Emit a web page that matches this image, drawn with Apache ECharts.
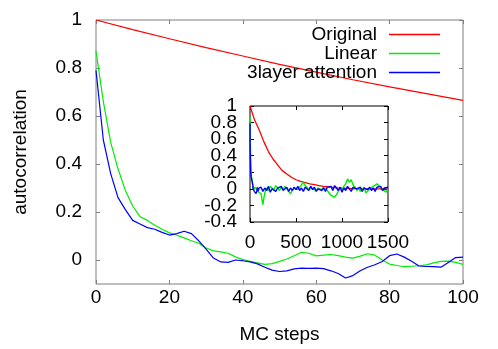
<!DOCTYPE html>
<html lang="en">
<head>
    <meta charset="UTF-8">
    <title>autocorrelation</title>
    <script src="https://cdn.jsdelivr.net/npm/echarts@6/dist/echarts.min.js"></script>
    <style>
        body { margin: 0; background: #fff; }
        #chart { width: 498px; height: 349px; }
    </style>
</head>
<body>
<div id="chart"></div>
<script>
    // main plot, MC steps 0..100
    var steps = [0, 2, 4, 6, 8, 10, 12, 14, 16, 18, 20, 22, 24, 26, 28, 30, 32, 34, 36, 38, 40,
        42, 44, 46, 48, 50, 52, 54, 56, 58, 60, 62, 64, 66, 68, 70, 72, 74, 76, 78, 80,
        82, 84, 86, 88, 90, 92, 94, 96, 98, 100]
    var linear = [0.87, 0.66, 0.49, 0.38, 0.29, 0.225, 0.18, 0.165, 0.145, 0.128, 0.113,
        0.103, 0.092, 0.08, 0.07, 0.05, 0.038, 0.034, 0.028, 0.013, 0.002,
        -0.006, -0.012, -0.018, -0.015, -0.006, 0.004, 0.018, 0.032, 0.028, 0.017,
        0.02, 0.023, 0.018, 0.012, 0.008, 0.016, 0.026, 0.02, 0.0, -0.017,
        -0.023, -0.028, -0.026, -0.024, -0.02, -0.012, -0.006, -0.005, -0.01, -0.018]
    var attention = [0.79, 0.50, 0.36, 0.26, 0.21, 0.165, 0.15, 0.135, 0.128, 0.115, 0.104,
        0.11, 0.12, 0.11, 0.08, 0.045, 0.008, -0.008, -0.01, 0.0, -0.003,
        -0.008, -0.016, -0.03, -0.042, -0.048, -0.045, -0.037, -0.034, -0.035, -0.034,
        -0.036, -0.045, -0.056, -0.075, -0.065, -0.045, -0.03, -0.02, -0.006, 0.018,
        0.025, 0.012, -0.005, -0.025, -0.027, -0.028, -0.03, -0.01, 0.01, 0.012]
    var origSteps = [0, 10, 20, 30, 40, 50, 60, 70, 80, 90, 100]
    var original = [1.0, 0.96, 0.922, 0.885, 0.85, 0.815, 0.783, 0.751, 0.721, 0.693, 0.665]

    // inset, MC steps 0..1500
    var tailSteps = [120, 140, 160, 180, 200, 220, 240, 260, 280, 300, 320, 340, 360, 380, 400,
        420, 440, 460, 480, 500, 520, 540, 560, 580, 600, 620, 640, 660, 680, 700,
        720, 740, 760, 780, 800, 820, 840, 860, 880, 900, 920, 940, 960, 980, 1000,
        1020, 1040, 1060, 1080, 1100, 1120, 1140, 1160, 1180, 1200, 1220, 1240, 1260, 1280, 1300,
        1320, 1340, 1360, 1380, 1400, 1420, 1440, 1460, 1480, 1500]
    var linearTail = [-0.06, -0.19, -0.05, 0.01, -0.02, 0.03, 0.02, -0.01, 0.04, 0.01, -0.02, 0.02, -0.01, 0.03, 0.0,
        -0.03, -0.06, -0.02, 0.01, 0.03, -0.01, 0.02, 0.05, 0.08, 0.04, 0.02, -0.01, 0.03, 0.0, 0.02,
        -0.02, 0.01, 0.03, -0.01, 0.02, 0.0, -0.02, -0.05, -0.08, -0.06, -0.1, -0.07, -0.03, 0.01, -0.02,
        0.03, 0.06, 0.12, 0.08, 0.11, 0.05, 0.02, -0.02, 0.01, -0.03, -0.01, 0.02, -0.05, -0.03, 0.0,
        -0.02, 0.03, 0.01, 0.06, 0.07, 0.02, -0.01, 0.01, -0.04, 0.0]
    var attentionTail = [0.02, -0.03, 0.01, -0.02, 0.03, -0.04, 0.0, 0.02, -0.03, 0.01, -0.01, 0.03, -0.02, 0.0, 0.02,
        -0.03, 0.01, -0.02, 0.02, -0.01, 0.03, -0.02, 0.01, -0.03, 0.02, 0.0, -0.02, 0.03, -0.01, 0.02,
        -0.03, 0.0, 0.02, -0.02, 0.01, -0.03, 0.02, 0.0, 0.03, -0.02, 0.04, 0.01, -0.02, 0.02, -0.04,
        0.01, -0.02, 0.03, 0.0, -0.03, 0.02, 0.04, 0.0, -0.02, 0.02, -0.03, 0.01, 0.03, -0.01, 0.02,
        -0.02, 0.01, -0.03, 0.02, 0.0, 0.03, -0.02, 0.01, -0.01, 0.02]
    var insetOrigSteps = [0, 50, 100, 150, 200, 250, 300, 350, 400, 450, 500, 550, 600, 650, 700,
        750, 800, 850, 900, 950, 1000, 1100, 1200, 1300, 1400, 1500]
    var insetOriginal = [1.0, 0.83, 0.71, 0.57, 0.45, 0.36, 0.29, 0.22, 0.18, 0.14, 0.11, 0.09, 0.075, 0.06, 0.05,
        0.04, 0.03, 0.024, 0.018, 0.012, 0.008, 0.004, 0.0, 0.0, 0.0, 0.0]

    var mainYTicks = [0, 0.2, 0.4, 0.6, 0.8, 1]
    // inset y labels sit closer than their own height, so they are split over two axes
    var insetYLabelsA = [-0.4, 0, 0.4, 0.8]
    var insetYLabelsB = [-0.2, 0.2, 0.6, 1]

    function pairs(xs, ys) {
        var out = []
        for (var i = 0; i < xs.length; i++) out.push([xs[i], ys[i]])
        return out
    }

    var font = 'Liberation Sans, Arial, sans-serif'
    var grey = '#7f7f7f'
    var fs = 19

    function lineSeries(name, color, xi, yi, data, width) {
        return {
            name: name, type: 'line', xAxisIndex: xi, yAxisIndex: yi,
            data: data, showSymbol: false, symbol: 'none', animation: false,
            lineStyle: {color: color, width: width || 1.2}, itemStyle: {color: color}
        }
    }

    function plain(v) {
        return String(Math.round(v * 10) / 10)
    }

    function insetYLabelAxis(values, withTicks) {
        return {
            type: 'value', gridIndex: 1, position: 'left', min: -0.4, max: 1, interval: 0.2, z: 6,
            axisLine: {show: false, onZero: false}, splitLine: {show: false},
            axisTick: {show: withTicks, inside: true, length: 4, lineStyle: {color: '#000'}},
            axisLabel: {
                fontSize: fs, color: '#000', margin: 13, customValues: values,
                showMinLabel: true, showMaxLabel: true, formatter: plain
            }
        }
    }

    var chart = echarts.init(document.getElementById('chart'))
    var option = {
        animation: false,
        textStyle: {fontFamily: font},
        legend: {
            data: ['Original', 'Linear', '3layer attention'],
            orient: 'vertical', align: 'right',
            right: 58, top: 25, padding: 0, itemGap: 0,
            icon: 'rect', itemWidth: 51, itemHeight: 1.5,
            textStyle: {fontSize: fs, color: '#000', lineHeight: 19, fontFamily: font, padding: [0, 7, 0, 0]}
        },
        grid: [
            {left: 96, top: 20, width: 367, height: 266, show: true, borderColor: grey, borderWidth: 1, backgroundColor: 'transparent'},
            {left: 250, top: 106, width: 138, height: 116, show: true, borderColor: '#000', borderWidth: 1, backgroundColor: '#fff', z: 5}
        ],
        xAxis: [
            {
                type: 'value', gridIndex: 0, min: 0, max: 100, interval: 20,
                name: 'MC steps', nameLocation: 'middle', nameGap: 41,
                nameTextStyle: {fontSize: fs, color: '#000'},
                axisLine: {show: false, onZero: false}, splitLine: {show: false},
                axisTick: {inside: true, length: 4, lineStyle: {color: grey}},
                axisLabel: {fontSize: fs, color: '#000', margin: 4}
            },
            {
                type: 'value', gridIndex: 0, position: 'top', min: 0, max: 100, interval: 20,
                axisLine: {show: false, onZero: false}, splitLine: {show: false}, axisLabel: {show: false},
                axisTick: {inside: true, length: 4, lineStyle: {color: grey}}
            },
            {
                type: 'value', gridIndex: 1, min: 0, max: 1500, interval: 500, z: 6,
                axisLine: {show: false, onZero: false}, splitLine: {show: false},
                axisTick: {inside: true, length: 4, lineStyle: {color: '#000'}},
                axisLabel: {fontSize: fs, color: '#000', margin: 11, formatter: function (v) { return String(v) }}
            },
            {
                type: 'value', gridIndex: 1, position: 'top', min: 0, max: 1500, interval: 500, z: 6,
                axisLine: {show: false, onZero: false}, splitLine: {show: false}, axisLabel: {show: false},
                axisTick: {inside: true, length: 4, lineStyle: {color: '#000'}}
            }
        ],
        yAxis: [
            {
                type: 'value', gridIndex: 0, position: 'left', min: -0.1, max: 1,
                name: 'autocorrelation', nameLocation: 'middle', nameGap: 66, nameRotate: 90,
                nameTextStyle: {fontSize: fs, color: '#000'},
                axisLine: {show: false, onZero: false}, splitLine: {show: false},
                axisTick: {inside: true, length: 4, customValues: mainYTicks, lineStyle: {color: grey}},
                axisLabel: {fontSize: fs, color: '#000', margin: 14, customValues: mainYTicks, formatter: plain}
            },
            {
                type: 'value', gridIndex: 0, position: 'right', min: -0.1, max: 1,
                axisLine: {show: false, onZero: false}, splitLine: {show: false}, axisLabel: {show: false},
                axisTick: {inside: true, length: 4, customValues: mainYTicks, lineStyle: {color: grey}}
            },
            insetYLabelAxis(insetYLabelsA, true),
            {
                type: 'value', gridIndex: 1, position: 'right', min: -0.4, max: 1, interval: 0.2, z: 6,
                axisLine: {show: false, onZero: false}, splitLine: {show: false}, axisLabel: {show: false},
                axisTick: {inside: true, length: 4, lineStyle: {color: '#000'}}
            },
            insetYLabelAxis(insetYLabelsB, false)
        ],
        series: [
            lineSeries('Original', '#ff0000', 0, 0, pairs(origSteps, original)),
            lineSeries('Linear', '#00ee00', 0, 0, pairs(steps, linear)),
            lineSeries('3layer attention', '#0000ff', 0, 0, pairs(steps, attention)),
            lineSeries('Original', '#ff0000', 2, 2, pairs(insetOrigSteps, insetOriginal), 1.3),
            lineSeries('Linear', '#00ee00', 2, 2, pairs(steps, linear).concat(pairs(tailSteps, linearTail)), 1.4),
            lineSeries('3layer attention', '#0000ff', 2, 2, pairs(steps, attention).concat(pairs(tailSteps, attentionTail)), 1.4)
        ]
    }
    option.series[3].z = 7
    option.series[4].z = 7
    option.series[5].z = 7
    chart.setOption(option)
</script>
</body>
</html>
